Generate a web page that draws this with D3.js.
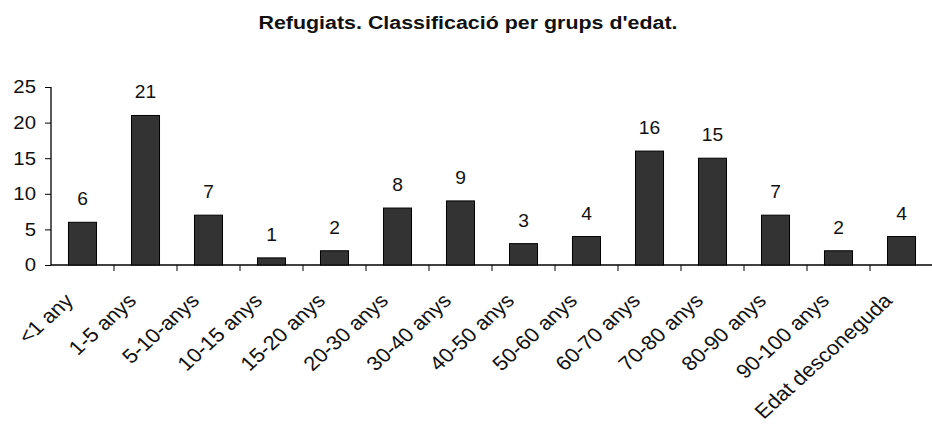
<!DOCTYPE html>
<html>
<head>
<meta charset="utf-8">
<script src="https://cdn.jsdelivr.net/npm/d3@7"></script>
<style>
  body { margin: 0; background: #fff; }
  svg { display: block; font-family: Arial, "Liberation Sans", sans-serif; }
</style>
</head>
<body>
<svg id="chart" width="932" height="431"></svg>
<script>
// age groups and counts
const categories = ['<1 any', '1-5 anys', '5-10-anys', '10-15 anys', '15-20 anys', '20-30 anys',
  '30-40 anys', '40-50 anys', '50-60 anys', '60-70 anys', '70-80 anys', '80-90 anys',
  '90-100 anys', 'Edat desconeguda'];
const values = [6, 21, 7, 1, 2, 8, 9, 3, 4, 16, 15, 7, 2, 4];
const yTicks = [0, 5, 10, 15, 20, 25];
const title = "Refugiats. Classificació per grups d'edat.";

const svg = d3.select('#chart');
const plotLeft = 51, plotRight = 933, plotTop = 87, plotBottom = 265;
const stretch = 1.1; // the source picture is a bit wider than tall

const x = d3.scaleBand().domain(categories).range([plotLeft, plotRight]).paddingInner(0.555).paddingOuter(0.2775);
const y = d3.scaleLinear().domain([0, 25]).range([plotBottom, plotTop]);

svg.append('text')
  .attr('transform', `translate(468,29) scale(${stretch * 1.025},1)`)
  .attr('text-anchor', 'middle')
  .style('font-size', '19px')
  .style('font-weight', 'bold')
  .style('fill', '#111')
  .text(title);

// y axis, ticks crossing the line
const yAxis = svg.append('g')
  .attr('transform', `translate(${plotLeft},0)`)
  .call(d3.axisLeft(y).tickValues(yTicks).tickSize(6).tickPadding(8));
yAxis.select('.domain').attr('stroke', '#000').attr('stroke-width', 1.3).attr('d', `M0,${plotTop}V${plotBottom}`);
yAxis.selectAll('.tick line').attr('stroke', '#000').attr('x2', -6);
yAxis.selectAll('text')
  .attr('x', null)
  .attr('transform', `translate(-15,0) scale(${stretch},1)`)
  .style('font-size', '18.5px').style('fill', '#111').style('font-family', 'Arial, sans-serif');

// x axis: ticks at band edges
const edges = categories.map(c => x(c) - x.step() * x.paddingInner() / 2);
const xAxis = svg.append('g')
  .attr('transform', `translate(0,${plotBottom})`);
xAxis.append('line')
  .attr('x1', plotLeft).attr('x2', plotRight)
  .attr('stroke', '#000').attr('stroke-width', 1.3);
xAxis.selectAll('.tk')
  .data(edges.slice(1))
  .enter().append('line')
  .attr('class', 'tk')
  .attr('x1', d => d).attr('x2', d => d)
  .attr('y1', 0).attr('y2', 6)
  .attr('stroke', '#000');

xAxis.selectAll('.lbl')
  .data(categories)
  .enter().append('text')
  .attr('class', 'lbl')
  .attr('text-anchor', 'end')
  .attr('transform', d => `translate(${x(d) + x.bandwidth() / 2 - 8},${37}) scale(${stretch},1) rotate(-45)`)
  .style('font-size', '20px')
  .style('fill', '#111')
  .text(d => d);

// bars
svg.selectAll('.bar')
  .data(values)
  .enter().append('rect')
  .attr('class', 'bar')
  .attr('x', (d, i) => x(categories[i]))
  .attr('width', x.bandwidth())
  .attr('y', d => y(d))
  .attr('height', d => plotBottom - y(d))
  .attr('fill', '#333')
  .attr('stroke', '#000')
  .attr('stroke-width', 1);

// value labels
svg.selectAll('.val')
  .data(values)
  .enter().append('text')
  .attr('class', 'val')
  .attr('transform', (d, i) => `translate(${x(categories[i]) + x.bandwidth() / 2},${y(d) - 17}) scale(${stretch},1)`)
  .attr('text-anchor', 'middle')
  .style('font-size', '17.5px')
  .style('fill', '#111')
  .text(d => d);
</script>
</body>
</html>
